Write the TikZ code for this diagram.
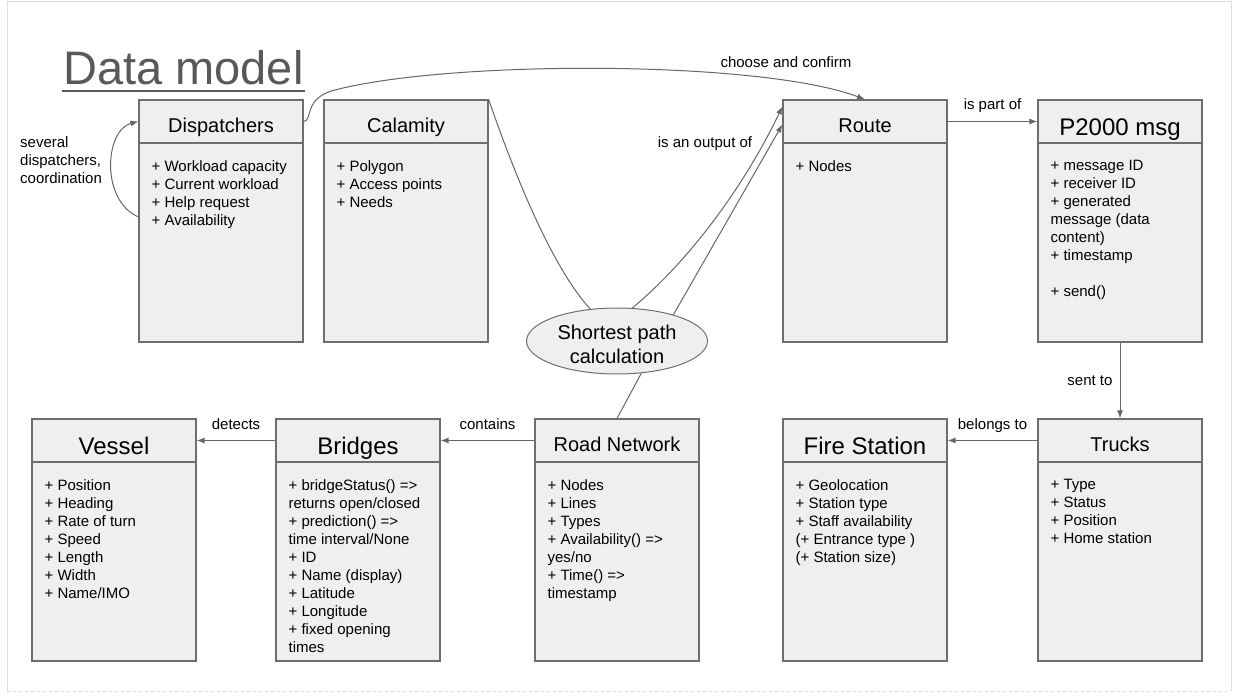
\documentclass[tikz,border=0pt]{standalone}
\usepackage{fontspec}
\setmainfont{Liberation Sans}
\usetikzlibrary{arrows.meta,shapes.geometric}

\definecolor{boxfill}{HTML}{EFEFEF}
\definecolor{boxline}{HTML}{6E6E6E}
\definecolor{linkgray}{HTML}{666666}
\definecolor{titlegray}{HTML}{595959}
\definecolor{framegray}{HTML}{DEDEDE}

\tikzset{
  classbox/.style={draw=boxline, fill=boxfill, line width=1.2pt, minimum width=164pt, minimum height=242pt, inner sep=0pt},
  classhead/.style={draw=boxline, line width=1.2pt, minimum width=164pt, minimum height=43pt, inner sep=0pt, anchor=north, text height=21.4pt, text depth=0pt, font=\fontsize{20}{24}\selectfont},
  bighead/.style={classhead, text height=28pt, font=\fontsize{24}{28}\selectfont},
  classitems/.style={anchor=north west, inner sep=0pt, align=left, font=\fontsize{15}{18}\selectfont},
  linklabel/.style={inner sep=2pt, text depth=3pt, font=\fontsize{15}{18}\selectfont},
  link/.style={draw=linkgray, line width=1pt, -{Latex[length=8pt,width=6pt]}},
  plainlink/.style={draw=linkgray, line width=1pt},
}

\begin{document}
\begin{tikzpicture}[x=1pt, y=-1pt]
        \useasboundingbox (0,0) rectangle (1241,700);
        % slide frame
        \draw[framegray, line width=1pt] (7,691) -- (7,2) -- (1231,2) -- (1231,691);
        \draw[framegray, line width=1pt, dashed] (7,691) -- (1231,691);

        \node[anchor=base west, inner sep=0pt, text=titlegray, font=\fontsize{47}{56}\selectfont] (title) at (63,85) {Data model};
        \draw[titlegray, line width=2.6pt] ([yshift=-6pt,xshift=-1pt]title.base west) -- ([yshift=-6pt,xshift=1pt]title.base east);

        % top row
        \node[classbox] (disp) at (221,221) {};
        \node[classhead] (disp-h) at (disp.north) {Dispatchers};
        \node[classitems] (disp-b) at ([xshift=13pt,yshift=-16.5pt]disp-h.south west) {+ Workload capacity\\+ Current workload\\+ Help request\\+ Availability};

        \node[classbox] (calamity) at (406,221) {};
        \node[classhead] (calamity-h) at (calamity.north) {Calamity};
        \node[classitems] (calamity-b) at ([xshift=13pt,yshift=-16.5pt]calamity-h.south west) {+ Polygon\\+ Access points\\+ Needs};

        \node[classbox] (route) at (865,221) {};
        \node[classhead] (route-h) at (route.north) {Route};
        \node[classitems] (route-b) at ([xshift=13pt,yshift=-16.5pt]route-h.south west) {+ Nodes};

        \node[classbox] (p2000) at (1120,221) {};
        \node[bighead] (p2000-h) at (p2000.north) {P2000 msg};
        \node[classitems] (p2000-b) at ([xshift=13pt,yshift=-16.5pt]p2000-h.south west) {+ message ID\\+ receiver ID\\+ generated\\message (data\\content)\\+ timestamp\\[18pt]+ send()};

        % bottom row
        \node[classbox] (vessel) at (114,540) {};
        \node[bighead] (vessel-h) at (vessel.north) {Vessel};
        \node[classitems] (vessel-b) at ([xshift=13pt,yshift=-16.5pt]vessel-h.south west) {+ Position\\+ Heading\\+ Rate of turn\\+ Speed\\+ Length\\+ Width\\+ Name/IMO};

        \node[classbox] (bridges) at (358,540) {};
        \node[bighead] (bridges-h) at (bridges.north) {Bridges};
        \node[classitems] (bridges-b) at ([xshift=13pt,yshift=-16.5pt]bridges-h.south west) {+ bridgeStatus() =>\\returns open/closed\\+ prediction() =>\\time interval/None\\+ ID\\+ Name (display)\\+ Latitude\\+ Longitude\\+ fixed opening\\times};

        \node[classbox] (road) at (617,540) {};
        \node[classhead] (road-h) at (road.north) {Road Network};
        \node[classitems] (road-b) at ([xshift=13pt,yshift=-16.5pt]road-h.south west) {+ Nodes\\+ Lines\\+ Types\\+ Availability() =>\\yes/no\\+ Time() =>\\timestamp};

        \node[classbox] (fire) at (865,540) {};
        \node[bighead] (fire-h) at (fire.north) {Fire Station};
        \node[classitems] (fire-b) at ([xshift=13pt,yshift=-16.5pt]fire-h.south west) {+ Geolocation\\+ Station type\\+ Staff availability\\(+ Entrance type )\\(+ Station size)};

        \node[classbox] (trucks) at (1120,540) {};
        \node[classhead] (trucks-h) at (trucks.north) {Trucks};
        \node[classitems] (trucks-b) at ([xshift=13pt,yshift=-16.5pt]trucks-h.south west) {+ Type\\+ Status\\+ Position\\+ Home station};

        \node[ellipse, draw=boxline, fill=boxfill, line width=1pt, minimum width=181pt, minimum height=66pt, inner sep=0pt, align=center, font=\fontsize{20}{24}\selectfont] (sp) at (617,341) {\rule{0pt}{21pt}Shortest path\\calculation};

        % connectors
        \draw[link] ([yshift=4pt]disp.west) .. controls (100,200) and (105,130) .. (disp-h.west);
        \node[anchor=west, inner sep=2pt, align=left, font=\fontsize{15}{18}\selectfont] (loop-l) at (18,160) {several\\dispatchers,\\coordination};

        \draw[link] (disp-h.east) .. controls (313,121) and (303,98) .. (335,90) .. controls (450,60) and (760,60) .. (route.north);
        \node[linklabel] (choose-l) at (786,64) {choose and confirm};

        \draw[plainlink] (calamity.north east) .. controls (520,190) and (555,270) .. (sp.130);
        \draw[link] (sp.65) .. controls (690,260) and (745,185) .. ([yshift=-7pt]route.north west);
        \draw[link] (sp.25) -- ([yshift=-3pt]route-h.west);
        \node[linklabel] (output-l) at (705,144) {is an output of};
        \draw[plainlink] (road.north) -- (sp.-53);

        \draw[link] (route-h.east) -- node[linklabel, above=6pt] (partof-l) {is part of} (p2000-h.west);
        \draw[link] (p2000.south) -- node[linklabel, left=5pt, yshift=-2pt] (sent-l) {sent to} (trucks.north);
        \draw[link] (trucks-h.west) -- node[linklabel, above=6pt] (belongs-l) {belongs to} (fire-h.east);
        \draw[link] (road-h.west) -- node[linklabel, above=6pt] (contains-l) {contains} (bridges-h.east);
        \draw[link] (bridges-h.west) -- node[linklabel, above=6pt] (detects-l) {detects} (vessel-h.east);
      \end{tikzpicture}
\end{document}
